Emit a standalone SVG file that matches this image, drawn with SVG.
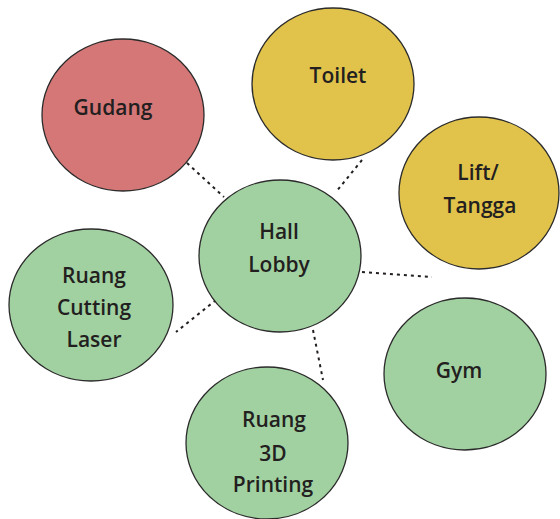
<svg xmlns="http://www.w3.org/2000/svg" width="560" height="519" viewBox="0 0 560 519">
<style>
.n{stroke:#2b2b2b;stroke-width:1.3}
.red{fill:#D67777}
.yel{fill:#E1C34B}
.grn{fill:#A1D1A1}
.t{font-family:"Open Sans","DejaVu Sans",sans-serif;font-weight:600;font-size:21px;fill:#231f20;text-anchor:middle}
.c{stroke:#231f20;stroke-width:2;stroke-dasharray:3 4;fill:none}
</style>
<rect width="560" height="519" fill="#fff"/>
<g id="connectors">
<line class="c" x1="187" y1="163" x2="224" y2="197"/>
<line class="c" x1="362" y1="160" x2="336" y2="192"/>
<line class="c" x1="362" y1="272" x2="432" y2="277"/>
<line class="c" x1="216" y1="300" x2="176" y2="332"/>
<line class="c" x1="313" y1="330" x2="323" y2="380"/>
</g>
<g id="gudang">
<ellipse class="n red" cx="123" cy="115" rx="81" ry="76"/>
<text class="t" x="113" y="115">Gudang</text>
</g>
<g id="toilet">
<ellipse class="n yel" cx="333" cy="84" rx="81" ry="76"/>
<text class="t" x="338" y="83">Toilet</text>
</g>
<g id="lift">
<ellipse class="n yel" cx="479" cy="193" rx="80" ry="76"/>
<text class="t" x="478" y="180">Lift/</text>
<text class="t" x="480" y="213">Tangga</text>
</g>
<g id="hall">
<ellipse class="n grn" cx="280" cy="256" rx="81" ry="76"/>
<text class="t" x="279" y="239">Hall</text>
<text class="t" x="279" y="272">Lobby</text>
</g>
<g id="cutting">
<ellipse class="n grn" cx="91" cy="305" rx="82" ry="76"/>
<text class="t" x="94" y="283">Ruang</text>
<text class="t" x="94" y="315">Cutting</text>
<text class="t" x="94" y="347">Laser</text>
</g>
<g id="gym">
<ellipse class="n grn" cx="465" cy="374" rx="81" ry="76"/>
<text class="t" x="459" y="378">Gym</text>
</g>
<g id="printing">
<ellipse class="n grn" cx="267" cy="443" rx="81" ry="76"/>
<text class="t" x="274" y="427">Ruang</text>
<text class="t" x="273" y="461">3D</text>
<text class="t" x="273" y="492">Printing</text>
</g>
</svg>
